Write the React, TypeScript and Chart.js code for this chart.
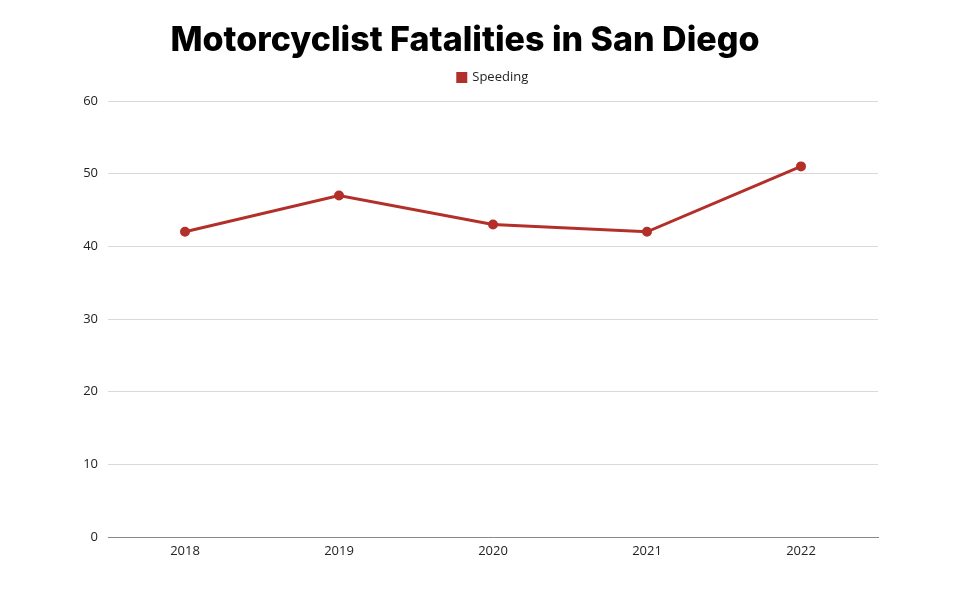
import React, { useEffect, useRef } from "react";
import { Chart, registerables } from "chart.js";

Chart.register(...registerables);

const titleText = "Motorcyclist Fatalities in San Diego";
const years = ["2018", "2019", "2020", "2021", "2022"];
const speeding = [42, 47, 43, 42, 51];
const seriesLabel = "Speeding";
const yTicks = [0, 10, 20, 30, 40, 50, 60];

const RED = "#b3302a";

export default function App() {
  const ref = useRef<HTMLCanvasElement | null>(null);

  useEffect(() => {
    if (!ref.current) return;
    const chart = new Chart(ref.current, {
      type: "line",
      data: {
        labels: years,
        datasets: [
          {
            label: seriesLabel,
            data: speeding,
            borderColor: RED,
            backgroundColor: RED,
            borderWidth: 3,
            pointRadius: 3.5,
            pointHoverRadius: 3.5,
            pointBackgroundColor: RED,
            pointBorderColor: RED,
            tension: 0,
          },
        ],
      },
      options: {
        responsive: false,
        animation: false,
        maintainAspectRatio: false,
        layout: { padding: { top: 61, right: 82, left: 0, bottom: 0 } },
        plugins: {
          title: { display: false },
          subtitle: {
            display: true,
            text: " ",
            position: "top",
            weight: 500,
            fullSize: false,
            font: { size: 1, lineHeight: 1 },
            padding: { top: 0, bottom: 6 },
          },
          tooltip: { enabled: false },
          legend: {
            display: true,
            position: "top",
            fullSize: false,
            labels: {
              usePointStyle: true,
              pointStyle: "rect",
              boxWidth: 8,
              boxHeight: 8,
              padding: 10,
              color: "#222",
              font: { family: "'Open Sans', 'Noto Sans', sans-serif", size: 13 },
            },
          },
        },
        scales: {
          x: {
            offset: true,
            grid: { display: false, drawTicks: false },
            border: { display: true, color: "#888", width: 1 },
            ticks: {
              padding: 6,
              color: "#222",
              font: { family: "'Open Sans', 'Noto Sans', sans-serif", size: 13 },
            },
            afterFit: (s: any) => {
              s.height = 63;
            },
          },
          y: {
            min: 0,
            max: 60,
            afterBuildTicks: (s: any) => {
              s.ticks = yTicks.map((v) => ({ value: v }));
            },
            grid: { color: "#d9d9d9", drawTicks: false, lineWidth: 1 },
            border: { display: false },
            ticks: {
              padding: 10,
              color: "#222",
              font: { family: "'Open Sans', 'Noto Sans', sans-serif", size: 13 },
            },
            afterFit: (s: any) => {
              s.width = 108;
            },
          },
        },
      },
    });
    return () => chart.destroy();
  }, []);

  return (
    <div
      style={{
        position: "fixed",
        left: 0,
        top: 0,
        width: 960,
        height: 600,
        background: "#fff",
      }}
    >
      <div
        style={{
          position: "absolute",
          left: 0,
          top: 17,
          width: 930,
          textAlign: "center",
          fontFamily: "Inter, 'Open Sans', sans-serif",
          fontWeight: 800,
          fontSize: 34,
          lineHeight: "44px",
          color: "#000",
        }}
      >
        {titleText}
      </div>
      <canvas ref={ref} width={960} height={600} style={{ display: "block" }} />
    </div>
  );
}
